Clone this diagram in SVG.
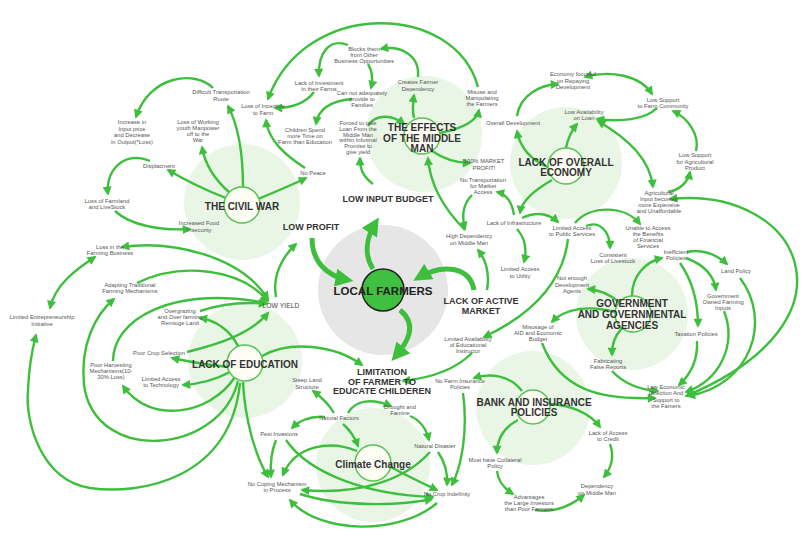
<svg xmlns="http://www.w3.org/2000/svg" width="805" height="541" viewBox="0 0 805 541">
<style>
.halo{fill:#e9f6e5}
.hub{fill:#fdfdf3;stroke:#55c455;stroke-width:1.5}
.c{fill:none;stroke:#3dbf3d;stroke-width:2.4;marker-end:url(#a)}
.b{marker-start:url(#s)}
.t{fill:none;stroke:#3dbf3d;stroke-width:5;marker-end:url(#A)}
text{font-family:"Liberation Sans",Arial,sans-serif;text-anchor:middle}
.s{font-size:5.8px;fill:#555}
.h{font-size:10px;font-weight:bold;fill:#333}
.m{font-size:9px;font-weight:bold;fill:#333}
</style>
<defs>
<marker id="a" viewBox="0 0 10 10" refX="8" refY="5" markerWidth="10" markerHeight="9" orient="auto" markerUnits="userSpaceOnUse"><path d="M0,0 L10,5 L0,10 z" fill="#3dbf3d"/></marker>
<marker id="s" viewBox="0 0 10 10" refX="8" refY="5" markerWidth="10" markerHeight="9" orient="auto-start-reverse" markerUnits="userSpaceOnUse"><path d="M0,0 L10,5 L0,10 z" fill="#3dbf3d"/></marker>
<marker id="A" viewBox="0 0 10 10" refX="7" refY="5" markerWidth="19" markerHeight="18" orient="auto" markerUnits="userSpaceOnUse"><path d="M0,0 L10,5 L0,10 z" fill="#3dbf3d"/></marker>
</defs>
<rect width="805" height="541" fill="#fff"/>
<g id="halos">
<circle class="halo" cx="242" cy="202" r="58"/>
<circle class="halo" cx="424" cy="134" r="58"/>
<circle class="halo" cx="566" cy="163" r="56"/>
<circle class="halo" cx="632" cy="314" r="56"/>
<circle class="halo" cx="245" cy="361" r="57"/>
<circle class="halo" cx="533" cy="408" r="57"/>
<circle class="halo" cx="373" cy="465" r="57"/>
<circle cx="383" cy="290" r="65" fill="#e6e6e6"/>
</g>
<g id="connectors">
<path class="c" d="M243 187 C243 150,238 125,228 106"/>
<path class="c" d="M230 193 C215 180,205 165,202 147"/>
<path class="c" d="M226 198 C205 190,185 180,168 170"/>
<path class="c" d="M258 199 C275 192,292 185,306 178"/>
<path class="c" d="M213 88 C195 70,150 75,136 117"/>
<path class="c" d="M150 161 C125 150,105 170,108 194"/>
<path class="c" d="M115 211 C130 225,160 231,190 229"/>
<path class="c" d="M305 168 C285 155,268 140,266 120"/>
<path class="c" d="M314 92 C305 104,290 108,275 108"/>
<path class="c" d="M352 99 C330 101,318 110,316 124"/>
<path class="c" d="M348 45 C330 38,318 52,319 76"/>
<path class="c" d="M368 64 C373 72,373 80,371 88"/>
<path class="c" d="M418 77 C420 55,400 45,381 49"/>
<path class="c" d="M478 87 C455 2,305 -2,268 99"/>
<path class="c" d="M414 118 C412 110,413 102,414 95"/>
<path class="c" d="M440 133 C465 128,477 120,479 110"/>
<path class="c" d="M368 126 C375 114,392 114,404 124"/>
<path class="c" d="M432 151 C445 160,458 163,470 163"/>
<path class="c" d="M465 230 C445 210,430 185,428 158"/>
<path class="c" d="M373 184 C362 176,360 168,360 158"/>
<path class="c" d="M550 168 C530 160,520 148,517 131"/>
<path class="c" d="M566 148 C568 138,572 130,577 124"/>
<path class="c" d="M552 180 C535 190,522 200,520 213"/>
<path class="c" d="M517 116 C520 95,540 85,558 84"/>
<path class="c b" d="M585 77 C610 70,640 75,652 94"/>
<path class="c" d="M657 108 C645 120,620 122,597 119"/>
<path class="c" d="M696 151 C700 135,688 118,673 111"/>
<path class="c b" d="M598 121 C630 140,650 160,653 187"/>
<path class="c" d="M668 192 C680 190,688 182,690 172"/>
<path class="c b" d="M670 199 C800 185,868 320,686 396"/>
<path class="c" d="M514 215 C512 202,506 194,497 192"/>
<path class="c" d="M472 195 C462 205,462 218,465 229"/>
<path class="c" d="M522 218 C535 212,548 213,558 222"/>
<path class="c" d="M517 229 C525 238,527 250,524 262"/>
<path class="c" d="M487 290 C490 272,486 260,478 250"/>
<path class="c" d="M575 223 C590 205,625 205,640 224"/>
<path class="c" d="M586 226 C600 220,610 232,610 248"/>
<path class="c" d="M568 239 C562 290,520 320,484 337"/>
<path class="c" d="M632 296 C632 276,645 262,662 258"/>
<path class="c" d="M620 303 C610 294,600 290,588 289"/>
<path class="c" d="M615 312 C590 305,565 308,552 322"/>
<path class="c" d="M622 328 C615 336,612 343,612 355"/>
<path class="c" d="M687 252 C700 249,715 253,727 264"/>
<path class="c" d="M686 258 C705 265,714 276,716 290"/>
<path class="c" d="M680 263 C692 280,698 300,698 326"/>
<path class="c" d="M697 341 C698 360,690 375,679 385"/>
<path class="c" d="M724 311 C737 345,720 380,686 392"/>
<path class="c" d="M740 278 C772 320,752 385,688 396"/>
<path class="c" d="M612 371 C625 385,642 390,658 391"/>
<path class="c" d="M542 343 C560 390,600 400,655 398"/>
<path class="c" d="M472 353 C455 370,430 378,403 381"/>
<path class="c" d="M522 391 C510 375,490 373,474 378"/>
<path class="c" d="M550 404 C570 405,590 413,600 427"/>
<path class="c" d="M518 420 C503 428,497 440,497 453"/>
<path class="c" d="M610 444 C614 455,612 467,604 477"/>
<path class="c" d="M497 471 C498 482,505 489,513 494"/>
<path class="c" d="M535 510 C555 513,572 505,584 495"/>
<path class="c" d="M463 393 C468 430,462 465,452 485"/>
<path class="c" d="M334 413 C328 403,320 396,313 391"/>
<path class="c" d="M348 413 C355 400,372 398,391 406"/>
<path class="c" d="M325 417 C312 416,300 420,292 428"/>
<path class="c" d="M343 424 C350 430,355 438,358 446"/>
<path class="c" d="M410 416 C420 420,426 428,429 440"/>
<path class="c" d="M438 452 C445 462,448 472,447 485"/>
<path class="c" d="M430 452 C405 480,360 495,302 490"/>
<path class="c" d="M276 440 C271 452,270 462,271 477"/>
<path class="c" d="M286 440 C310 475,370 495,433 497"/>
<path class="c" d="M357 451 C330 440,295 445,283 475"/>
<path class="c" d="M389 466 C405 475,420 482,437 490"/>
<path class="c" d="M300 494 C340 507,400 506,432 499"/>
<path class="c" d="M437 503 C400 535,320 535,290 500"/>
<path class="c" d="M262 356 C290 340,335 345,362 365"/>
<path class="c" d="M243 382 C245 420,255 455,268 477"/>
<path class="c" d="M238 346 C230 330,215 320,200 318"/>
<path class="c" d="M228 367 C210 365,190 362,172 358"/>
<path class="c" d="M230 372 C215 380,200 384,183 385"/>
<path class="c" d="M235 377 C210 415,150 425,123 386"/>
<path class="c" d="M238 381 C220 455,95 465,84 385 C80 345,95 315,114 299"/>
<path class="c" d="M240 383 C230 480,140 495,90 488 C40 480,25 420,28 390 C29 365,32 350,36 335"/>
<path class="c" d="M113 361 C113 320,170 285,267 303"/>
<path class="c" d="M137 283 C180 262,240 268,268 301"/>
<path class="c" d="M200 311 C225 303,248 302,266 304"/>
<path class="c" d="M187 352 C215 345,250 335,268 313"/>
<path class="c b" d="M268 299 C240 255,170 240,122 247"/>
<path class="c b" d="M95 257 C75 270,55 285,50 308"/>
<path class="c" d="M276 297 C272 275,283 256,296 244"/>
<path class="t" d="M312 238 C312 262,327 276,348 280"/>
<path class="t" d="M373 269 C364 255,366 238,376 222"/>
<path class="t" d="M474 290 C470 268,445 262,418 278"/>
<path class="t" d="M400 310 C418 325,408 342,395 357"/>
</g>
<g id="local-farmers"><circle cx="383" cy="290" r="21" fill="#40c040" stroke="#222" stroke-width="1.5"/><text x="383" y="295" style="font-size:11.5px;font-weight:bold;fill:#222">LOCAL FARMERS</text></g>
<g id="civil-war"><circle class="hub" cx="242" cy="205" r="18"/><text class="h" x="242" y="209.5">THE CIVIL WAR</text></g>
<g id="middle-man"><circle class="hub" cx="422" cy="136" r="18"/><text class="h" x="422" y="131">THE EFFECTS</text><text class="h" x="422" y="141.5">OF THE MIDDLE</text><text class="h" x="422" y="152">MAN</text></g>
<g id="economy"><circle class="hub" cx="566" cy="166" r="18"/><text class="h" x="566" y="165.5">LACK OF OVERALL</text><text class="h" x="566" y="176">ECONOMY</text></g>
<g id="government"><circle class="hub" cx="633" cy="314" r="18"/><text class="h" x="632" y="306.5">GOVERNMENT</text><text class="h" x="632" y="317.5">AND GOVERNMENTAL</text><text class="h" x="632" y="328.5">AGENCIES</text></g>
<g id="education"><circle class="hub" cx="245" cy="363" r="18"/><text class="h" x="245" y="367.5">LACK OF EDUCATION</text></g>
<g id="bank"><circle class="hub" cx="533" cy="407" r="17"/><text class="h" x="534" y="405.5">BANK AND INSURANCE</text><text class="h" x="534" y="416">POLICIES</text></g>
<g id="climate"><circle class="hub" cx="373" cy="463" r="18"/><text class="h" x="373" y="467.5">Climate Change</text></g>
<g id="low-profit"><text class="m" x="311" y="230">LOW PROFIT</text></g>
<g id="low-input"><text class="m" x="388" y="202">LOW INPUT BUDGET</text></g>
<g id="active-market"><text class="m" x="481" y="304">LACK OF ACTIVE</text><text class="m" x="481" y="314">MARKET</text></g>
<g id="limitation"><text class="m" x="382" y="375">LIMITATION</text><text class="m" x="382" y="384.5">OF FARMER TO</text><text class="m" x="382" y="394">EDUCATE CHILDEREN</text></g>
<g id="low-yield"><text x="281" y="307.5" style="font-size:6.8px;fill:#444">LOW YIELD</text></g>
<g id="n-difficult"><text class="s" x="221" y="94">Difficult Transportation<tspan x="221" dy="6.5">Route</tspan></text></g>
<g id="n-increase"><text class="s" x="132" y="124">Increase in<tspan x="132" dy="6.5">Input price</tspan><tspan x="132" dy="6.5">and Decrease</tspan><tspan x="132" dy="6.5">in Output(*Loss)</tspan></text></g>
<g id="n-youth"><text class="s" x="198" y="124">Loss of Working<tspan x="198" dy="6">youth Manpower</tspan><tspan x="198" dy="6">off to the</tspan><tspan x="198" dy="6">War</tspan></text></g>
<g id="n-displacment"><text class="s" x="159" y="168">Displacment</text></g>
<g id="n-farmland"><text class="s" x="107" y="203">Loss of Farmland<tspan x="107" dy="6.2">and LiveStock</tspan></text></g>
<g id="n-food"><text class="s" x="199" y="225">Increased Food<tspan x="199" dy="6.5">Insecurity</tspan></text></g>
<g id="n-incentive"><text class="s" x="263" y="108">Loss of Incentive<tspan x="263" dy="6.5">to Farm</tspan></text></g>
<g id="n-investment"><text class="s" x="319" y="85">Lack of Investment<tspan x="319" dy="6.2">in their Farms</tspan></text></g>
<g id="n-blocks"><text class="s" x="364" y="51">Blocks them<tspan x="364" dy="6">from Other</tspan><tspan x="364" dy="6">Business Opportunities</tspan></text></g>
<g id="n-creates"><text class="s" x="418" y="84">Creates Farmer<tspan x="418" dy="6.5">Dependency</tspan></text></g>
<g id="n-provide"><text class="s" x="362" y="95">Can not adequately<tspan x="362" dy="6.2">provide to</tspan><tspan x="362" dy="6.2">Families</tspan></text></g>
<g id="n-misuse"><text class="s" x="482" y="94">Misuse and<tspan x="482" dy="6">Manipulating</tspan><tspan x="482" dy="6">the Farmers</tspan></text></g>
<g id="n-children"><text class="s" x="305" y="132">Children Spend<tspan x="305" dy="6.2">more Time on</tspan><tspan x="305" dy="6.2">Farm than Education</tspan></text></g>
<g id="n-loan"><text class="s" x="358" y="125">Forced to take<tspan x="358" dy="5.8">Loan From the</tspan><tspan x="358" dy="5.8">Middle Man</tspan><tspan x="358" dy="5.8">within Informal</tspan><tspan x="358" dy="5.8">Promise to</tspan><tspan x="358" dy="5.8">give yield</tspan></text></g>
<g id="n-peace"><text class="s" x="313" y="175">No Peace</text></g>
<g id="n-profit100"><text class="s" x="484" y="163">100% MARKET<tspan x="484" dy="6.5">PROFIT!</tspan></text></g>
<g id="n-overall"><text class="s" x="513" y="125">Overall Development</text></g>
<g id="n-repaying"><text class="s" x="573" y="76">Economy focused<tspan x="573" dy="6.5">on Repaying</tspan><tspan x="573" dy="6.5">Development</tspan></text></g>
<g id="n-lowsupport"><text class="s" x="663" y="102">Low Support<tspan x="663" dy="6.2">to Farm Community</tspan></text></g>
<g id="n-loan-avail"><text class="s" x="584" y="114">Low Availability<tspan x="584" dy="6.2">on Loan</tspan></text></g>
<g id="n-agriproduct"><text class="s" x="695" y="157">Low Support<tspan x="695" dy="6.5">for Agricultural</tspan><tspan x="695" dy="6.5">Product</tspan></text></g>
<g id="n-agriinput"><text class="s" x="659" y="195">Agricultural<tspan x="659" dy="6">Input becomes</tspan><tspan x="659" dy="6">more Expensive</tspan><tspan x="659" dy="6">and Unaffordable</tspan></text></g>
<g id="n-transport"><text class="s" x="483" y="182">No Transportation<tspan x="483" dy="6">for Market</tspan><tspan x="483" dy="6">Access</tspan></text></g>
<g id="n-infra"><text class="s" x="514" y="225">Lack of Infrastructure</text></g>
<g id="n-highdep"><text class="s" x="469" y="238">High Dependency<tspan x="469" dy="6.5">on Middle Man</tspan></text></g>
<g id="n-public"><text class="s" x="572" y="230">Limited Access<tspan x="572" dy="6.2">to Public Services</tspan></text></g>
<g id="n-unable"><text class="s" x="648" y="230">Unable to Access<tspan x="648" dy="6">the Benefits</tspan><tspan x="648" dy="6">of Financial</tspan><tspan x="648" dy="6">Services</tspan></text></g>
<g id="n-livestock"><text class="s" x="613" y="257">Consistent<tspan x="613" dy="6.2">Loss of Livestock</tspan></text></g>
<g id="n-utility"><text class="s" x="520" y="271">Limited Access<tspan x="520" dy="6.5">to Utility</tspan></text></g>
<g id="n-inefficient"><text class="s" x="676" y="254">Inefficient<tspan x="676" dy="6.2">Policies</tspan></text></g>
<g id="n-land"><text class="s" x="736" y="273">Land Policy</text></g>
<g id="n-agents"><text class="s" x="572" y="280">Not enough<tspan x="572" dy="6.5">Development</tspan><tspan x="572" dy="6.5">Agents</tspan></text></g>
<g id="n-govinputs"><text class="s" x="723" y="298">Government<tspan x="723" dy="6">Owned Farming</tspan><tspan x="723" dy="6">Inputs</tspan></text></g>
<g id="n-tax"><text class="s" x="696" y="336">Taxation Policies</text></g>
<g id="n-misusage"><text class="s" x="538" y="329">Misusage of<tspan x="538" dy="6">AID and Economic</tspan><tspan x="538" dy="6">Budget</tspan></text></g>
<g id="n-fabricating"><text class="s" x="608" y="363">Fabricating<tspan x="608" dy="6">False Reports</tspan></text></g>
<g id="n-loweconomic"><text class="s" x="666" y="389">Low Economic<tspan x="666" dy="6.4">Direction And</tspan><tspan x="666" dy="6.4">Support to</tspan><tspan x="666" dy="6.4">the Famers</tspan></text></g>
<g id="n-instructor"><text class="s" x="468" y="341">Limited Availability<tspan x="468" dy="6">of Educational</tspan><tspan x="468" dy="6">Instructor</tspan></text></g>
<g id="n-insurance"><text class="s" x="460" y="383">No Farm Insurance<tspan x="460" dy="6">Policies</tspan></text></g>
<g id="n-credit"><text class="s" x="608" y="435">Lack of Access<tspan x="608" dy="6">to Credit</tspan></text></g>
<g id="n-collateral"><text class="s" x="495" y="462">Most have Collateral<tspan x="495" dy="6">Policy</tspan></text></g>
<g id="n-depmm"><text class="s" x="597" y="488">Dependency<tspan x="597" dy="6.5">on Middle Man</tspan></text></g>
<g id="n-advantages"><text class="s" x="529" y="499">Advantages<tspan x="529" dy="6">the Large Investors</tspan><tspan x="529" dy="6">than Poor Farmers</tspan></text></g>
<g id="n-steep"><text class="s" x="307" y="382">Steep Land<tspan x="307" dy="6.5">Structure</tspan></text></g>
<g id="n-natural"><text class="s" x="339" y="420">Natural Factors</text></g>
<g id="n-drought"><text class="s" x="400" y="409">Drought and<tspan x="400" dy="6.2">Famine</tspan></text></g>
<g id="n-pest"><text class="s" x="279" y="436">Pest Invasions</text></g>
<g id="n-disaster"><text class="s" x="435" y="448">Natural Disaster</text></g>
<g id="n-coping"><text class="s" x="277" y="486">No Coping Mechanism<tspan x="277" dy="6.2">in Process</tspan></text></g>
<g id="n-crop"><text class="s" x="447" y="496">No Crop Indefinity</text></g>
<g id="n-business"><text class="s" x="110" y="249">Loss in the<tspan x="110" dy="6.2">Farming Business</tspan></text></g>
<g id="n-adapting"><text class="s" x="130" y="287">Adapting Traditional<tspan x="130" dy="6.2">Farming Mechanisms</tspan></text></g>
<g id="n-overgrazing"><text class="s" x="180" y="313">Overgrazing<tspan x="180" dy="6.2">and Over farming</tspan><tspan x="180" dy="6.2">Remtoge Land</tspan></text></g>
<g id="n-entrepreneur"><text class="s" x="42" y="319">Limited Entrepreneurship<tspan x="42" dy="6.5">Initiative</tspan></text></g>
<g id="n-cropselection"><text class="s" x="159" y="355">Poor Crop Selection</text></g>
<g id="n-harvesting"><text class="s" x="111" y="367">Poor Harvesting<tspan x="111" dy="6">Mechanisms(10-</tspan><tspan x="111" dy="6">30% Loss)</tspan></text></g>
<g id="n-technology"><text class="s" x="161" y="381">Limited Access<tspan x="161" dy="6.2">to Technology</tspan></text></g>
</svg>
